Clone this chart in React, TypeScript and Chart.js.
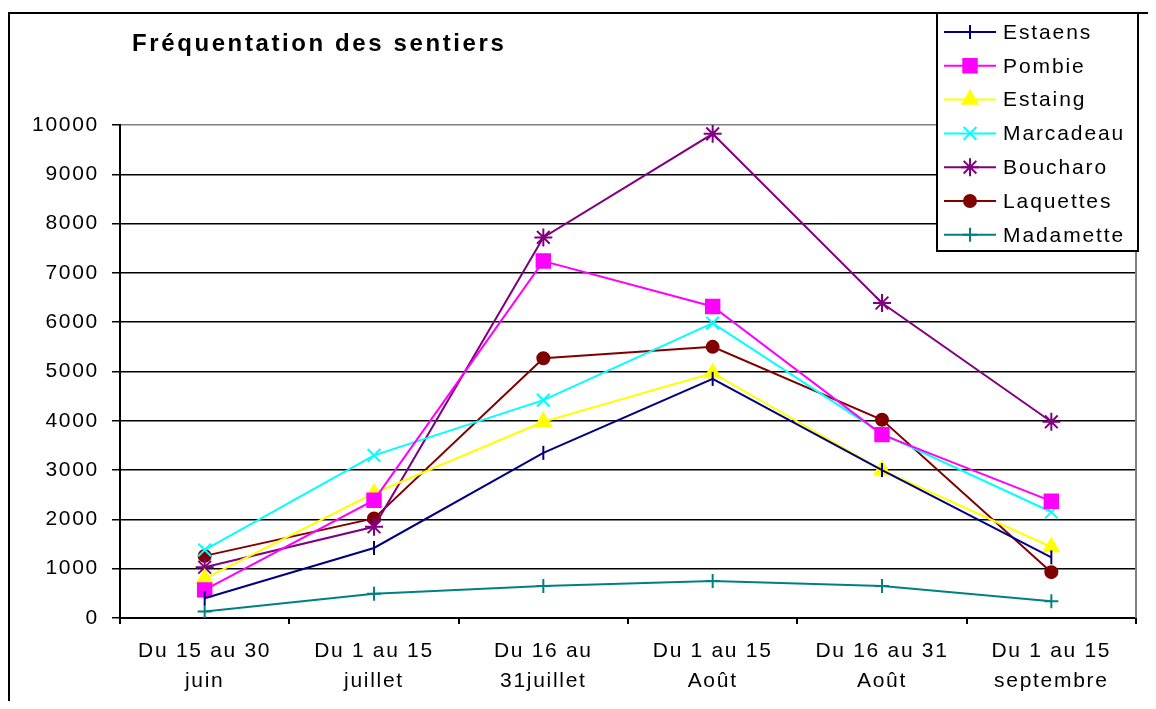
import React, { useEffect, useRef } from "react";
import { Chart, registerables } from "chart.js";
import { drawPoint } from "chart.js/helpers";

Chart.register(...registerables);

const titleText = "Fréquentation des sentiers";
const categories = [
  ["Du 15 au 30", "juin"],
  ["Du 1 au 15", "juillet"],
  ["Du 16 au", "31juillet"],
  ["Du 1 au 15", "Août"],
  ["Du 16 au 31", "Août"],
  ["Du 1 au 15", "septembre"],
];
const estaens = [400, 1420, 3350, 4850, 3000, 1230];
const pombie = [570, 2390, 7240, 6320, 3720, 2370];
const estaing = [800, 2530, 3980, 4970, 3000, 1440];
const marcadeau = [1380, 3300, 4420, 5980, 3740, 2150];
const boucharo = [1030, 1850, 7720, 9820, 6390, 3980];
const laquettes = [1260, 2020, 5270, 5500, 4020, 930];
const madamette = [130, 490, 650, 750, 650, 340];

const FONT = "'Liberation Sans', Arial, sans-serif";
const SPACING = "1.7px";

const seriesDefs = [
  { label: "Estaens", data: estaens, color: "#000080", style: "line", rotation: 90, radius: 7 },
  { label: "Pombie", data: pombie, color: "#FF00FF", style: "rect", rotation: 0, radius: 9.5 },
  { label: "Estaing", data: estaing, color: "#FFFF00", style: "triangle", rotation: 0, radius: 8.5 },
  { label: "Marcadeau", data: marcadeau, color: "#00FFFF", style: "crossRot", rotation: 0, radius: 9 },
  { label: "Boucharo", data: boucharo, color: "#800080", style: "star", rotation: 0, radius: 9 },
  { label: "Laquettes", data: laquettes, color: "#800000", style: "circle", rotation: 0, radius: 6 },
  { label: "Madamette", data: madamette, color: "#008080", style: "cross", rotation: 0, radius: 7 },
];

const spacingPlugin = {
  id: "spacing",
  beforeUpdate(chart: any) {
    chart.ctx.letterSpacing = SPACING;
  },
  beforeDraw(chart: any) {
    const ctx = chart.ctx;
    ctx.letterSpacing = SPACING;
    ctx.save();
    ctx.strokeStyle = "#000";
    ctx.lineWidth = 2;
    ctx.strokeRect(1, 5, chart.width + 20, chart.height + 20);
    ctx.restore();
  },
  beforeDatasetsDraw(chart: any) {
    const { ctx, chartArea } = chart;
    ctx.save();
    ctx.strokeStyle = "#808080";
    ctx.lineWidth = 2;
    ctx.beginPath();
    ctx.moveTo(chartArea.right, chartArea.top);
    ctx.lineTo(chartArea.right, chartArea.bottom);
    ctx.stroke();
    ctx.restore();
  },
  afterDraw(chart: any) {
    const ctx = chart.ctx;
    ctx.save();
    ctx.letterSpacing = "2.6px";
    ctx.font = `bold 24px ${FONT}`;
    ctx.fillStyle = "#000";
    ctx.textBaseline = "alphabetic";
    ctx.textAlign = "left";
    ctx.fillText(titleText, 124, 43);
    ctx.restore();

    ctx.save();
    const bx = 929, by = 5, bw = 201, bh = 238;
    ctx.fillStyle = "#fff";
    ctx.fillRect(bx, by, bw, bh);
    ctx.strokeStyle = "#000";
    ctx.lineWidth = 2;
    ctx.strokeRect(bx, by, bw, bh);
    seriesDefs.forEach((s, i) => {
      const y = 24 + i * 33.8;
      ctx.strokeStyle = s.color;
      ctx.fillStyle = s.color;
      ctx.lineWidth = 2;
      ctx.beginPath();
      ctx.moveTo(936, y);
      ctx.lineTo(988, y);
      ctx.stroke();
      drawPoint(ctx, { pointStyle: s.style, rotation: s.rotation, radius: s.radius, borderWidth: 2 } as any, 962, y);
      ctx.fillStyle = "#000";
      ctx.letterSpacing = "1.9px";
      ctx.font = `21px ${FONT}`;
      ctx.textBaseline = "middle";
      ctx.textAlign = "left";
      ctx.fillText(s.label, 995, y + 1);
    });
    ctx.restore();
  },
};

export default function App() {
  const ref = useRef<HTMLCanvasElement>(null);
  useEffect(() => {
    const canvas = ref.current!;
    const chart = new Chart(canvas, {
      type: "line",
      data: {
        labels: categories,
        datasets: seriesDefs.map((s) => ({
          label: s.label,
          data: s.data,
          borderColor: s.color,
          backgroundColor: s.color,
          borderWidth: 2,
          pointStyle: s.style as any,
          pointRotation: s.rotation,
          pointRadius: s.radius,
          pointBorderWidth: 2,
          pointBackgroundColor: s.color,
          pointBorderColor: s.color,
          tension: 0,
          fill: false,
        })),
      },
      options: {
        responsive: false,
        animation: false,
        layout: { padding: { top: 117, right: 20, left: 0, bottom: 0 } },
        plugins: {
          legend: { display: false },
          title: { display: false },
          tooltip: { enabled: false },
        },
        scales: {
          x: {
            type: "category",
            offset: true,
            grid: {
              offset: true,
              drawOnChartArea: false,
              drawTicks: true,
              tickLength: 6,
              color: "#000",
              lineWidth: 2,
            },
            border: { color: "#000", width: 2 },
            ticks: {
              color: "#000",
              padding: 12,
              maxRotation: 0,
              autoSkip: false,
              font: { family: FONT, size: 21, lineHeight: 1.45 },
            },
            afterFit: (scale: any) => {
              scale.height = 83;
            },
          },
          y: {
            min: 0,
            max: 10000,
            grid: {
              color: (c: any) => (c.tick && c.tick.value === 10000 ? "#808080" : "#000"),
              tickColor: "#000",
              lineWidth: 1.5,
              tickLength: 8,
            },
            border: { color: "#000", width: 2 },
            ticks: {
              stepSize: 1000,
              color: "#000",
              padding: 13,
              font: { family: FONT, size: 21 },
              callback: (v: any) => String(v),
            },
            afterFit: (scale: any) => {
              scale.width = 112;
            },
          },
        },
      },
      plugins: [spacingPlugin],
    });
    return () => chart.destroy();
  }, []);
  return (
    <canvas ref={ref} width={1148} height={693} style={{ display: "block", width: 1148, height: 693 }} />
  );
}
